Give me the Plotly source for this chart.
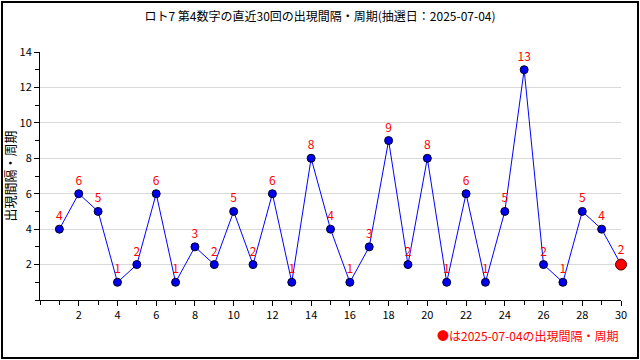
import plotly.graph_objects as go

draws = list(range(1, 31))
intervals = [4, 6, 5, 1, 2, 6, 1, 3, 2, 5, 2, 6, 1, 8, 4, 1, 3, 9, 2, 8, 1, 6, 1, 5, 13, 2, 1, 5, 4, 2]
x_tick_vals = list(range(2, 31, 2))
y_tick_vals = list(range(2, 15, 2))

title_text = "ロト7 第4数字の直近30回の出現間隔・周期(抽選日：2025-07-04)"
y_title = "出現間隔・周期"
note_text = "●は2025-07-04の出現間隔・周期"

FONT = "Noto Sans CJK JP"

fig = go.Figure()
fig.add_trace(go.Scatter(
    x=draws, y=intervals,
    mode="lines", line=dict(color="#0000ff", width=1),
    hoverinfo="skip", showlegend=False, cliponaxis=False,
))
fig.add_trace(go.Scatter(
    x=draws[:-1], y=intervals[:-1],
    mode="markers+text",
    marker=dict(color="#0000ee", size=8, line=dict(color="#000022", width=1)),
    text=[str(v) for v in intervals[:-1]],
    textposition="top center",
    textfont=dict(color="#ff0000", size=12, family=FONT),
    showlegend=False, cliponaxis=False,
))
fig.add_trace(go.Scatter(
    x=[draws[-1]], y=[intervals[-1]],
    mode="markers+text",
    marker=dict(color="#ff0000", size=11, line=dict(color="#550000", width=1)),
    text=[str(intervals[-1])],
    textposition="top center",
    textfont=dict(color="#ff0000", size=12, family=FONT),
    showlegend=False, cliponaxis=False,
))

L, R, T, B = 40, 19, 52, 60
W, H = 640, 360
pw, ph = W - L - R, H - T - B

fig.update_layout(
    width=W, height=H,
    margin=dict(l=L, r=R, t=T, b=B, autoexpand=False),
    paper_bgcolor="white", plot_bgcolor="white",
    font=dict(family=FONT, size=12, color="black"),
    title=dict(text=title_text, x=0.5, xanchor="center", y=1 - 17 / H, yanchor="middle",
               font=dict(size=12, family=FONT, color="black")),
    xaxis=dict(
        range=[0, 30], showgrid=False, zeroline=False, automargin=False,
        showline=True, linecolor="black", linewidth=1,
        tickmode="array", tickvals=x_tick_vals, ticktext=[str(v) for v in x_tick_vals],
        ticks="outside", ticklen=5, tickcolor="black",
        minor=dict(tickmode="linear", tick0=0, dtick=1, ticks="outside", ticklen=4, tickcolor="black", showgrid=False),
        tickfont=dict(size=11, family=FONT),
    ),
    yaxis=dict(
        range=[0, 14], showgrid=True, gridcolor="#d9d9d9", gridwidth=1, zeroline=False, automargin=False,
        showline=True, linecolor="black", linewidth=1,
        tickmode="array", tickvals=y_tick_vals, ticktext=[str(v) for v in y_tick_vals],
        ticks="outside", ticklen=5, tickcolor="black",
        minor=dict(tickmode="linear", tick0=0, dtick=1, ticks="outside", ticklen=4, tickcolor="black", showgrid=False),
        tickfont=dict(size=11, family=FONT),
        title=dict(text=y_title, standoff=4, font=dict(size=13, family=FONT)),
    ),
    annotations=[
        dict(
            text=note_text, xref="paper", yref="paper",
            x=1, xanchor="right", y=-(335 - T - ph) / ph, yanchor="middle",
            showarrow=False, font=dict(color="#ff0000", size=12, family=FONT),
        ),
        dict(
            text=" ", xref="paper", yref="paper",
            x=(W / 2 - L) / pw, y=(T + ph - H / 2) / ph,
            xanchor="center", yanchor="middle",
            width=W - 6, height=H - 6, showarrow=False,
            bordercolor="black", borderwidth=2, borderpad=0, bgcolor="rgba(0,0,0,0)",
        ),
    ],
)

fig.write_html("out.html", config={"displayModeBar": False},
               post_script="document.body.style.margin='0';document.body.style.overflow='hidden';")
